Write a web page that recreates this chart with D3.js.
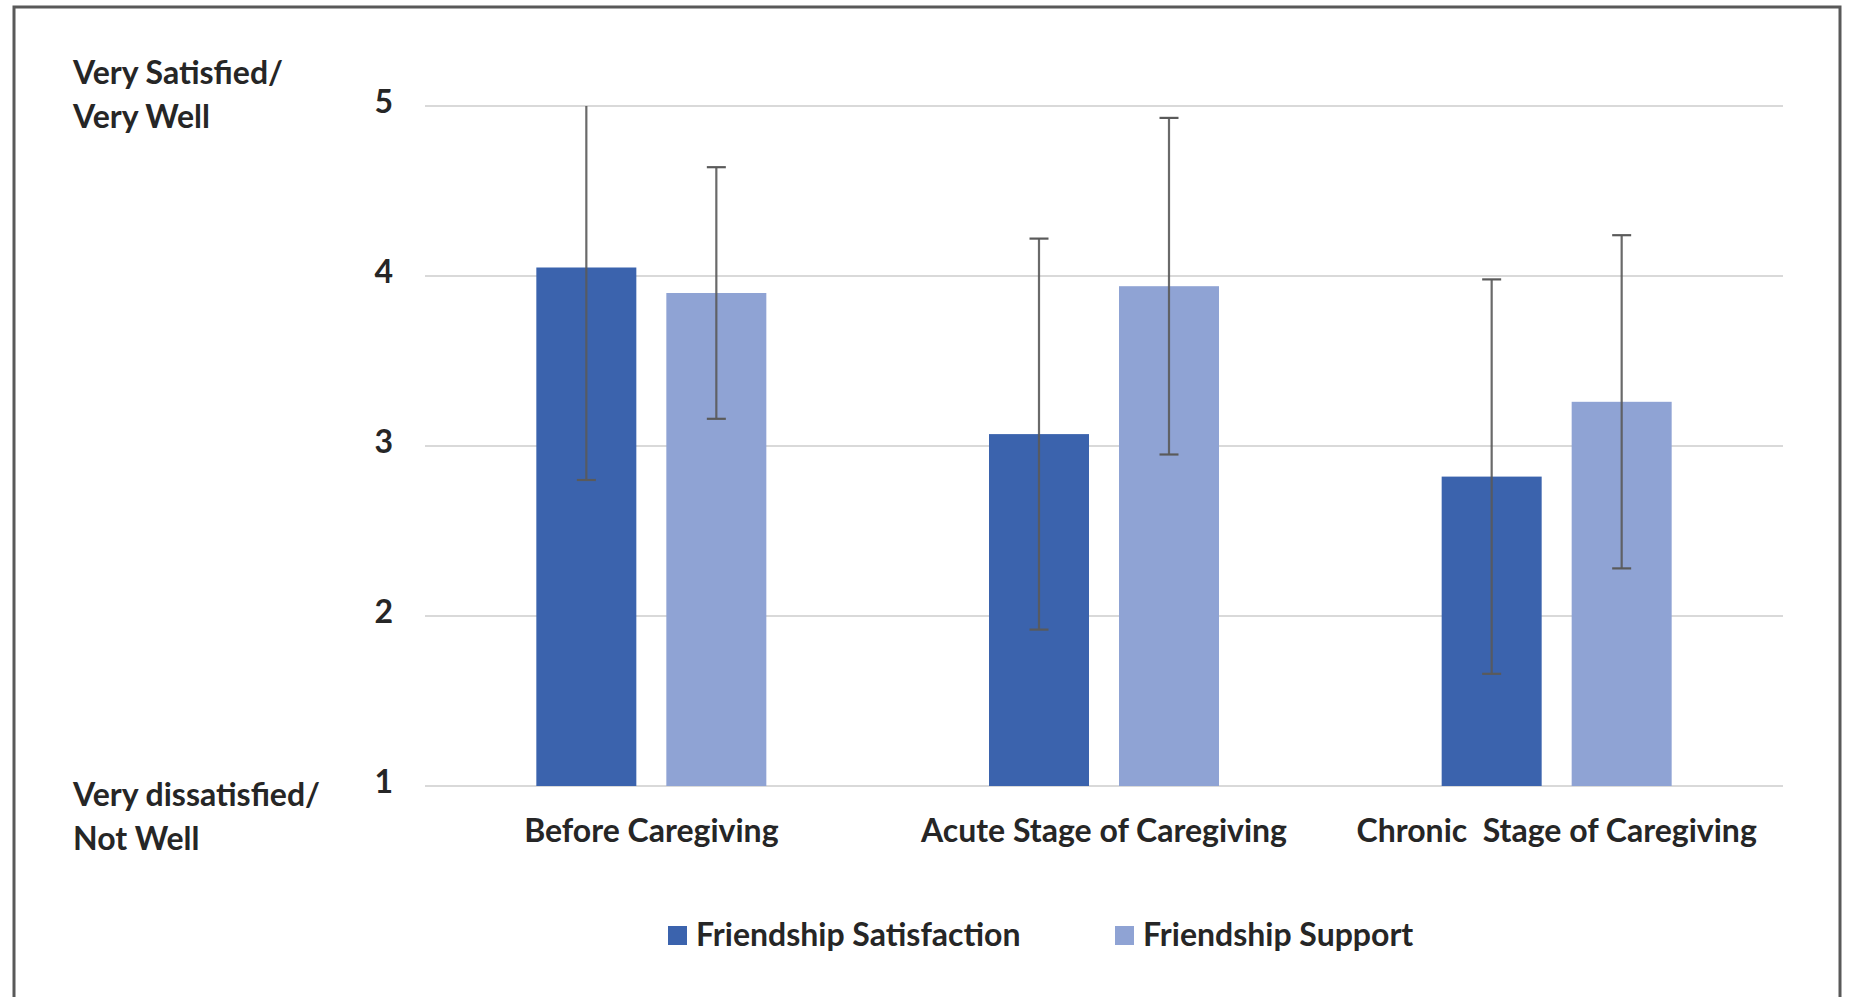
<!DOCTYPE html>
<html>
<head>
<meta charset="utf-8">
<script src="https://cdn.jsdelivr.net/npm/d3@7"></script>
<style>
  html, body { margin: 0; padding: 0; background: #fff; }
  svg { display: block; }
  text { font-family: Lato, "Liberation Sans", sans-serif; fill: #262626; font-weight: bold; }
</style>
</head>
<body>
<svg id="chart" width="1852" height="997"></svg>
<script>
const categories = ["Before Caregiving", "Acute Stage of Caregiving", "Chronic  Stage of Caregiving"];
const seriesNames = ["Friendship Satisfaction", "Friendship Support"];
const satisfaction = [4.05, 3.07, 2.82];
const support = [3.90, 3.94, 3.26];
const satisfactionErr = [1.25, 1.15, 1.16];
const supportErr = [0.74, 0.99, 0.98];
const yTicks = [1, 2, 3, 4, 5];
const yTopLabel = ["Very Satisfied/", "Very Well"];
const yBottomLabel = ["Very dissatisfied/", "Not Well"];
const colors = ["#3b63ad", "#8fa3d4"];

const FONT = 'Lato, "Liberation Sans", sans-serif';
const FS = 32;
const svg = d3.select("#chart");

// frame
svg.append("rect").attr("x", 14).attr("y", 7).attr("width", 1826).attr("height", 1100)
  .attr("fill", "none").attr("stroke", "#595959").attr("stroke-width", 3);

const plot = { left: 425, right: 1783, top: 106, bottom: 786 };
const y = d3.scaleLinear().domain([1, 5]).range([plot.bottom, plot.top]);
const x0 = d3.scaleBand().domain(categories).range([plot.left, plot.right]).padding(0);
const bw = x0.bandwidth();
const x1 = d3.scaleBand().domain(seriesNames).range([bw / 2 - 115, bw / 2 + 115]).paddingInner(30 / 130).paddingOuter(0);

// gridlines
svg.append("g").selectAll("line").data(yTicks).join("line")
  .attr("x1", plot.left).attr("x2", plot.right)
  .attr("y1", d => y(d)).attr("y2", d => y(d))
  .attr("stroke", "#d9d9d9").attr("stroke-width", 2);

// y axis labels
const yAxis = d3.axisLeft(y).tickValues(yTicks).tickSize(0).tickPadding(0).tickFormat(d3.format("d"));
const yg = svg.append("g").attr("transform", `translate(393,0)`).call(yAxis);
yg.select(".domain").remove();
yg.selectAll("text").attr("font-size", FS).attr("dy", "0.2em")
  .style("font-family", FONT).attr("fill", "#262626").attr("font-weight", "bold");

// side labels
function multi(lines, x, yy, lh) {
  const t = svg.append("text").attr("x", x).attr("y", yy).attr("font-size", FS);
  lines.forEach((l, i) => t.append("tspan").attr("x", x).attr("dy", i === 0 ? 0 : lh).text(l));
}
multi(yTopLabel, 73, 84, 44);
multi(yBottomLabel, 73, 806, 44);

// data rows
const rows = categories.map((c, i) => ({
  cat: c,
  vals: [
    { s: seriesNames[0], v: satisfaction[i], e: satisfactionErr[i], c: colors[0] },
    { s: seriesNames[1], v: support[i], e: supportErr[i], c: colors[1] }
  ]
}));

const groups = svg.append("g").selectAll("g").data(rows).join("g")
  .attr("transform", d => `translate(${x0(d.cat)},0)`);

groups.selectAll("rect").data(d => d.vals).join("rect")
  .attr("x", d => x1(d.s)).attr("width", x1.bandwidth())
  .attr("y", d => y(d.v)).attr("height", d => y(1) - y(d.v))
  .attr("fill", d => d.c);

// error bars
const capW = 19;
const eb = groups.selectAll("g.err").data(d => d.vals).join("g").attr("class", "err")
  .attr("transform", d => `translate(${x1(d.s) + x1.bandwidth() / 2},0)`);
eb.append("line")
  .attr("y1", d => y(Math.min(5, d.v + d.e))).attr("y2", d => y(Math.max(1, d.v - d.e)))
  .attr("stroke", "#5a5a5a").attr("stroke-width", 2.2).attr("opacity", 0.9);
eb.filter(d => d.v + d.e <= 5).append("line")
  .attr("x1", -capW / 2).attr("x2", capW / 2)
  .attr("y1", d => y(d.v + d.e)).attr("y2", d => y(d.v + d.e))
  .attr("stroke", "#5a5a5a").attr("stroke-width", 2.2);
eb.append("line")
  .attr("x1", -capW / 2).attr("x2", capW / 2)
  .attr("y1", d => y(Math.max(1, d.v - d.e))).attr("y2", d => y(Math.max(1, d.v - d.e)))
  .attr("stroke", "#5a5a5a").attr("stroke-width", 2.2);

// x axis labels
const xAxis = d3.axisBottom(x0).tickSize(0).tickPadding(0);
const xg = svg.append("g").attr("transform", `translate(0,${plot.bottom + 56})`).call(xAxis);
xg.select(".domain").remove();
xg.selectAll("text").attr("font-size", FS).attr("dy", 0)
  .style("white-space", "pre").style("font-family", FONT)
  .attr("fill", "#262626").attr("font-weight", "bold");

// legend
const legendX = [668, 1115];
const lg = svg.append("g").selectAll("g").data(seriesNames).join("g")
  .attr("transform", (d, i) => `translate(${legendX[i]},934)`);
lg.append("rect").attr("x", 0).attr("y", -8).attr("width", 19).attr("height", 19)
  .attr("fill", (d, i) => colors[i]);
lg.append("text").attr("x", 28).attr("y", 12).attr("font-size", FS).text(d => d);
</script>
</body>
</html>
